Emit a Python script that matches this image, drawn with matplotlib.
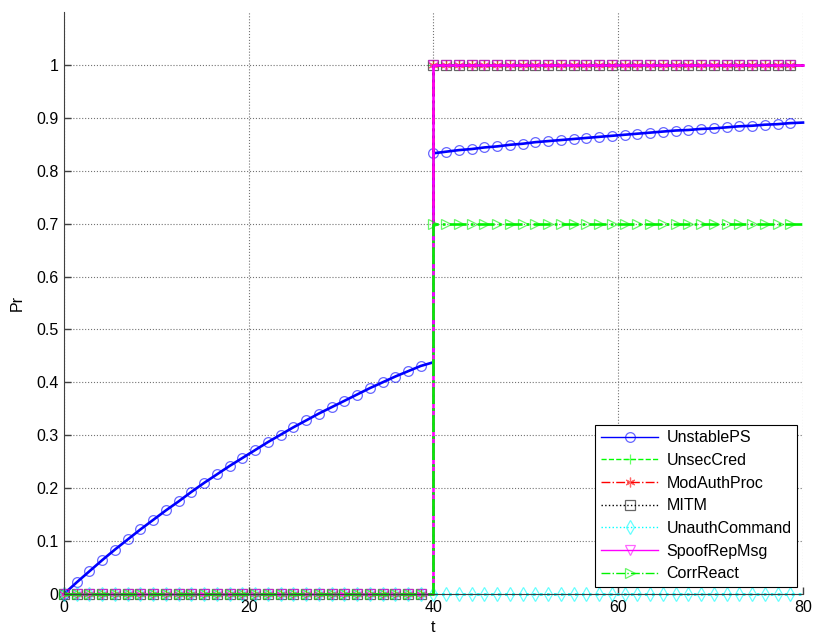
import numpy as np
import matplotlib
matplotlib.use('Agg')
import matplotlib.pyplot as plt

plt.rcParams['font.family'] = ['Liberation Sans', 'DejaVu Sans']
plt.rcParams['font.size'] = 11.5

# time grid: two phases, before and after the switch at t = 40
t1 = np.linspace(0, 40, 30)
t2 = np.linspace(40, 80, 30)

unstable_ps_1 = [0.000, 0.022, 0.043, 0.064, 0.084, 0.103, 0.122, 0.140, 0.158, 0.175,
                 0.193, 0.210, 0.226, 0.242, 0.257, 0.272, 0.287, 0.301, 0.315, 0.328,
                 0.341, 0.353, 0.365, 0.377, 0.389, 0.400, 0.411, 0.421, 0.431, 0.438]
unstable_ps_2 = [0.833, 0.836, 0.839, 0.841, 0.844, 0.846, 0.849, 0.851, 0.854, 0.856,
                 0.858, 0.860, 0.862, 0.864, 0.866, 0.868, 0.870, 0.872, 0.874, 0.876,
                 0.877, 0.879, 0.880, 0.882, 0.884, 0.885, 0.887, 0.888, 0.890, 0.891]

# constant levels of the other threats in each phase
unsec_cred = (0.0, 1.0)
mod_auth_proc = (0.0, 1.0)
mitm = (0.0, 1.0)
unauth_command = (0.0, 0.0)
spoof_rep_msg = (0.0, 1.0)
corr_react = (0.0, 0.7)

t = np.concatenate([t1, t2])
n1 = len(t1)


def levels(pair):
    return np.concatenate([np.full(n1, pair[0]), np.full(len(t2), pair[1])])


asterisk = (6, 2, 0)
series = [
    ('UnstablePS', np.concatenate([unstable_ps_1, unstable_ps_2]), (0, 0, 1), '-', 'o'),
    ('UnsecCred', levels(unsec_cred), (0, 1, 0), '--', '+'),
    ('ModAuthProc', levels(mod_auth_proc), (1, 0, 0), '-.', asterisk),
    ('MITM', levels(mitm), (0, 0, 0), ':', 's'),
    ('UnauthCommand', levels(unauth_command), (0, 1, 1), ':', 'd'),
    ('SpoofRepMsg', levels(spoof_rep_msg), (1, 0, 1), '-', 'v'),
    ('CorrReact', levels(corr_react), (0, 0.95, 0), '-.', '>'),
]

# no marker on the last sample of each phase
marks = list(range(0, n1 - 1)) + list(range(n1, len(t) - 1))

fig = plt.figure(figsize=(8.13, 6.35), dpi=100)
ax = fig.add_axes([0.0787, 0.0646, 0.9090, 0.9165])

for name, y, c, ls, mk in series:
    ax.plot(t, y, color=c, linestyle=ls, linewidth=1.9, marker=mk, markersize=7,
            markevery=marks, markerfacecolor='none', markeredgecolor=c + (0.6,),
            markeredgewidth=0.9, label=name, clip_on=False)

ax.set_xlim(0, 80)
ax.set_ylim(0, 1.1)
ax.set_xticks([0, 20, 40, 60, 80])
ax.set_yticks(np.arange(0, 1.01, 0.1))
ax.set_yticklabels(['0', '0.1', '0.2', '0.3', '0.4', '0.5', '0.6', '0.7', '0.8', '0.9', '1'])
ax.tick_params(direction='in', length=5, width=1, colors='0.25', labelcolor='black',
               labelsize=11.5, pad=4)
ax.grid(True, linestyle=':', color='0.45', linewidth=0.8)
ax.spines['top'].set_visible(False)
ax.spines['right'].set_visible(False)
ax.spines['left'].set_color('0.25')
ax.spines['bottom'].set_color('0.25')
ax.set_xlabel('t', labelpad=4)
ax.set_ylabel('Pr', labelpad=8)

leg = ax.legend(loc='lower right', bbox_to_anchor=(0.992, 0.012), borderaxespad=0,
                fancybox=False, framealpha=1, edgecolor='black', handlelength=3.6,
                handletextpad=0.5, labelspacing=0.48, borderpad=0.35, fontsize=11.5)
leg.get_frame().set_linewidth(0.8)
for h in leg.get_lines():
    h.set_linewidth(1.0)

fig.savefig('out.png', dpi=100)
